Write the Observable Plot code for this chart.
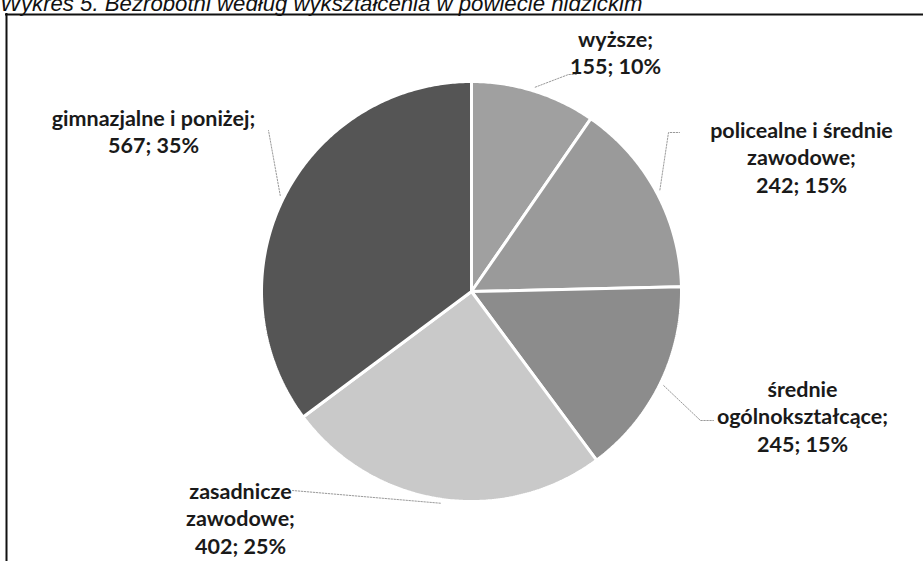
<!DOCTYPE html>
<html>
<head>
<meta charset="utf-8">
<script src="https://cdn.jsdelivr.net/npm/d3@7"></script>
<script src="https://cdn.jsdelivr.net/npm/@observablehq/plot@0.6"></script>
<style>
  html, body { margin: 0; padding: 0; background: #fff; overflow: hidden; }
  #wrap { position: relative; width: 923px; height: 561px; }
  #title {
    position: absolute; left: 0px; top: -7px; margin: 0;
    font: italic 22.2px "Liberation Sans", Arial, sans-serif; line-height: 22px;
    color: #111; white-space: nowrap; z-index: 2;
  }
  #chart { position: absolute; left: 0; top: 0; }
</style>
</head>
<body>
<div id="wrap">
  <div id="title">Wykres 5. Bezrobotni według wykształcenia w powiecie nidzickim</div>
  <div id="chart"></div>
</div>
<script>
// ---- data ----
const categories = ["wyższe", "policealne i średnie zawodowe", "średnie ogólnokształcące", "zasadnicze zawodowe", "gimnazjalne i poniżej"];
const values = [155, 242, 245, 402, 567];
const labelLines = [["wyższe;"], ["policealne i średnie", "zawodowe;"], ["średnie", "ogólnokształcące;"], ["zasadnicze", "zawodowe;"], ["gimnazjalne i poniżej;"]];
const colors = ["#a0a0a0", "#9a9a9a", "#8c8c8c", "#c9c9c9", "#555555"];

// ---- layout ----
const W = 923, H = 561;
const cx = 471, cy = 291, R = 210;
const labelPos = [[615, 51], [801, 156], [802, 415], [240, 517], [153, 130]];
const leaderVia = [[[568, 74], [577, 74]], [[668, 132], [679, 132]], [[700, 420], [713, 420]], [[292, 490]], [[268, 130]]];

const total = d3.sum(values);
const pie = d3.pie().sort(null).value(d => d)(values);

const pt = (a, r) => [cx + r * Math.sin(a), cy - r * Math.cos(a)];

// slice polygons
const slicePts = [];
pie.forEach((s, i) => {
  slicePts.push({cat: categories[i], x: cx, y: cy});
  const n = Math.max(4, Math.ceil((s.endAngle - s.startAngle) / 0.01));
  for (let k = 0; k <= n; k++) {
    const a = s.startAngle + (s.endAngle - s.startAngle) * k / n;
    const [x, y] = pt(a, R);
    slicePts.push({cat: categories[i], x, y});
  }
});

// leader lines
const leaderPts = [];
pie.forEach((s, i) => {
  const mid = (s.startAngle + s.endAngle) / 2;
  const [x0, y0] = pt(mid, R + 4);
  leaderPts.push({cat: categories[i], x: x0, y: y0});
  leaderVia[i].forEach(([x, y]) => leaderPts.push({cat: categories[i], x, y}));
});

// labels
const labels = categories.map((c, i) => ({
  cat: c,
  x: labelPos[i][0],
  y: labelPos[i][1],
  text: [...labelLines[i], `${values[i]}; ${Math.round(values[i] / total * 100)}%`].join("\n")
}));

const chart = Plot.plot({
  width: W, height: H,
  margin: 0,
  x: {domain: [0, W], axis: null},
  y: {domain: [H, 0], axis: null},
  color: {domain: categories, range: colors},
  marks: [
    Plot.line(slicePts, {x: "x", y: "y", z: "cat", fill: "cat", stroke: "white", strokeWidth: 3, curve: "linear-closed", strokeLinejoin: "miter"}),
    Plot.line(leaderPts, {x: "x", y: "y", z: "cat", stroke: "#9a9a9a", strokeWidth: 1, strokeDasharray: "1.5,1.5"}),
    Plot.text(labels, {x: "x", y: "y", text: "text", fill: "#1a1a1a", fontFamily: "Lato, 'Open Sans', sans-serif", fontWeight: "bold", fontSize: 21.5, lineHeight: 1.28, textAnchor: "middle", lineAnchor: "middle"}),
    Plot.ruleY([14], {x1: 5, x2: W, stroke: "#111", strokeWidth: 2}),
    Plot.ruleX([6], {y1: 13, y2: H, stroke: "#111", strokeWidth: 2})
  ]
});
document.getElementById("chart").appendChild(chart);
</script>
</body>
</html>
